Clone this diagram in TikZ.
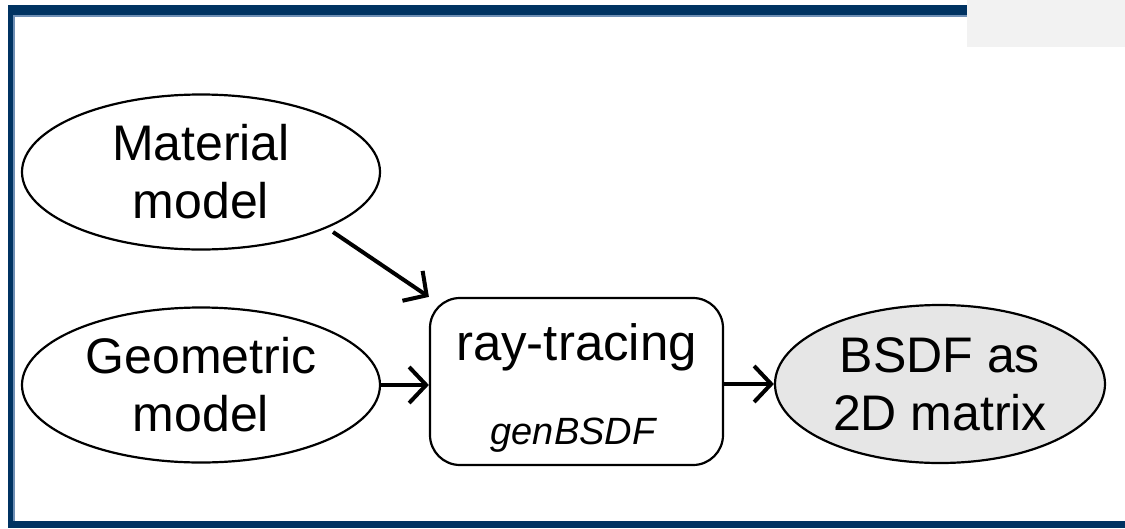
\documentclass[tikz,border=0pt]{standalone}
\usepackage{fontspec}
\setmainfont{Liberation Sans}
\usetikzlibrary{arrows.meta,shapes.geometric}
\definecolor{framebl}{HTML}{003362}
\definecolor{framelt}{HTML}{6F8FB5}
\definecolor{tabgray}{HTML}{F2F2F2}
\definecolor{resgray}{HTML}{E6E6E6}
\tikzset{
  every node/.style={font=\fontsize{50}{58}\selectfont, align=center},
  oval/.style={ellipse, draw=black, line width=2.2pt, inner sep=0pt},
  procbox/.style={draw=black, line width=2.2pt, rounded corners=30pt, inner sep=0pt},
  flow/.style={line width=4pt, -{Straight Barb[length=17pt,width=36pt,line width=4pt]}},
}
\begin{document}
\begin{tikzpicture}[x=1pt,y=-1pt]
  \useasboundingbox (0,0) rectangle (1125,528);
  % frame
  \fill[framebl] (8,5) rectangle (967,15);
  \fill[framelt] (13,15) rectangle (967,16.5);
  \fill[framebl] (8,5) rectangle (13,528);
  \fill[framelt] (13,16.5) rectangle (14.5,521);
  \fill[framebl] (8,521) rectangle (1125,528);
  \fill[tabgray] (967,0) rectangle (1125,47);
  % nodes
  \node[oval, minimum width=358pt, minimum height=155pt] (mat) at (201,172) {Material\\model};
  \node[oval, minimum width=358pt, minimum height=155pt] (geo) at (201,385) {Geometric\\model};
  \node[procbox, minimum width=293pt, minimum height=167pt] (ray) at (576.5,381.5) {};
  \node (raytxt) at (576.5,347) {\fontsize{51}{58}\selectfont ray-tracing};
  \node (gen) at (573,435) {\fontsize{38}{44}\selectfont\itshape genBSDF};
  \node[oval, fill=resgray, minimum width=330pt, minimum height=158pt] (res) at (940,384) {BSDF as\\2D matrix};
  % connectors
  \coordinate (matend) at (333,232);
  \draw[flow] (matend) -- (ray.north west);
  \draw[flow] (geo.east) -- (ray.west |- geo.east);
  \draw[flow] (ray.east |- res.west) -- (res.west);
\end{tikzpicture}
\end{document}
